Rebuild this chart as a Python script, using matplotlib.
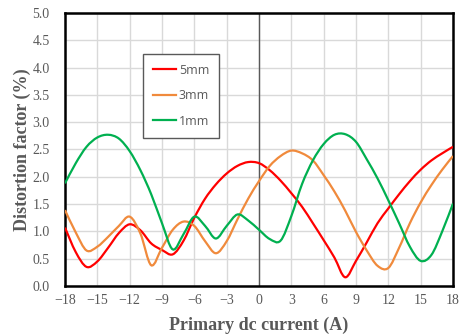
import matplotlib
matplotlib.use("Agg")
import matplotlib.pyplot as plt
import numpy as np
from matplotlib.path import Path
from matplotlib.patches import PathPatch
from matplotlib.lines import Line2D

# primary dc current (A)
current = list(range(-18, 19))

# distortion factor (%)
dist_5mm = [1.07, 0.62, 0.35, 0.45, 0.70, 0.97, 1.13, 1.02, 0.78, 0.66,
            0.58, 0.83, 1.25, 1.60, 1.86, 2.06, 2.20, 2.27, 2.25, 2.12,
            1.93, 1.70, 1.45, 1.15, 0.84, 0.52, 0.16, 0.46, 0.80, 1.15,
            1.42, 1.68, 1.92, 2.13, 2.30, 2.43, 2.55]
dist_3mm = [1.39, 0.98, 0.65, 0.72, 0.90, 1.10, 1.27, 0.96, 0.38, 0.70,
            1.03, 1.18, 1.10, 0.82, 0.60, 0.82, 1.22, 1.60, 1.92, 2.20,
            2.38, 2.48, 2.43, 2.30, 2.03, 1.73, 1.38, 0.99, 0.65, 0.37,
            0.33, 0.70, 1.15, 1.53, 1.85, 2.13, 2.38]
dist_1mm = [1.88, 2.25, 2.55, 2.72, 2.77, 2.70, 2.47, 2.12, 1.68, 1.15,
            0.67, 0.95, 1.27, 1.10, 0.87, 1.10, 1.31, 1.20, 1.03, 0.86,
            0.83, 1.28, 1.87, 2.30, 2.60, 2.77, 2.78, 2.64, 2.32, 1.97,
            1.57, 1.15, 0.72, 0.46, 0.57, 1.00, 1.51]

series = [("5mm", dist_5mm, "#ff0000"),
          ("3mm", dist_3mm, "#f08a3c"),
          ("1mm", dist_1mm, "#00b050")]

GRAY = "#595959"


def smooth_path(x, y):
    """Excel-like smoothed line: Catmull-Rom segments as cubic Bezier."""
    p = np.column_stack([x, y]).astype(float)
    ext = np.vstack([p[0], p, p[-1]])
    verts = [p[0]]
    codes = [Path.MOVETO]
    for i in range(len(p) - 1):
        p0, p1, p2, p3 = ext[i], ext[i + 1], ext[i + 2], ext[i + 3]
        verts += [p1 + (p2 - p0) / 6, p2 - (p3 - p1) / 6, p2]
        codes += [Path.CURVE4] * 3
    return Path(verts, codes)


fig = plt.figure(figsize=(4.59, 3.34), dpi=100)
ax = fig.add_axes([0.1416, 0.1437, 0.8453, 0.8174])

ax.set_xlim(-18, 18)
ax.set_ylim(0, 5)
ax.set_xticks(np.arange(-18, 19, 3))
ax.set_yticks(np.arange(0, 5.01, 0.5))
ax.set_yticklabels([f"{v:.1f}" for v in np.arange(0, 5.01, 0.5)])
ax.grid(True, color="#d9d9d9", linewidth=1.0)
ax.set_axisbelow(True)
ax.axvline(0, color=GRAY, linewidth=1.0, zorder=1.5)

for label, vals, color in series:
    ax.add_patch(PathPatch(smooth_path(current, vals), fill=False,
                           edgecolor=color, linewidth=1.6, zorder=3))

for s in ax.spines.values():
    s.set_color("black")
    s.set_linewidth(1.8)

ax.tick_params(length=0, labelsize=10, labelcolor=GRAY)
ax.tick_params(axis="y", pad=11)
ax.tick_params(axis="x", pad=6)
for t in ax.get_xticklabels() + ax.get_yticklabels():
    t.set_fontfamily("Liberation Serif")

ax.set_xlabel("Primary dc current (A)", fontsize=13, fontweight="bold",
              color=GRAY, family="Liberation Serif", labelpad=7)
ax.set_ylabel("Distortion factor (%)", fontsize=13, fontweight="bold",
              color=GRAY, family="Liberation Serif", labelpad=1)

handles = [Line2D([], [], color=c, linewidth=1.6) for _, _, c in series]
leg = ax.legend(handles, [s[0] for s in series], loc="upper left",
                bbox_to_anchor=(0.184, 0.874), frameon=True, fancybox=False,
                edgecolor=GRAY, framealpha=1, handlelength=1.9,
                handletextpad=0.2, labelspacing=1.0, borderpad=0.8,
                prop={"family": "Open Sans", "size": 9})
leg.get_frame().set_linewidth(1.0)
for t in leg.get_texts():
    t.set_color(GRAY)

fig.savefig("out.png", dpi=100)
